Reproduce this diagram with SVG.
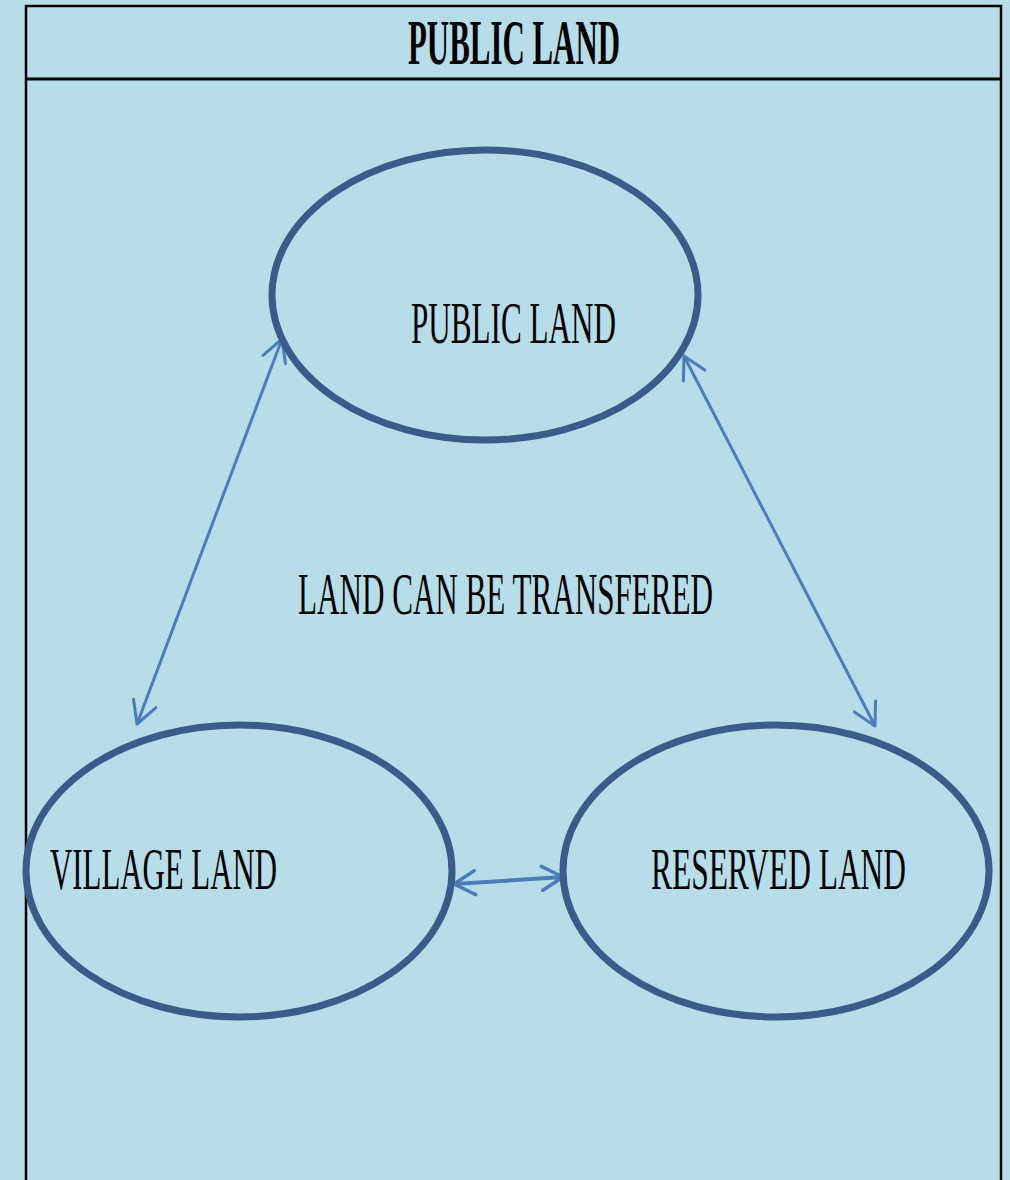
<svg xmlns="http://www.w3.org/2000/svg" width="1010" height="1180" viewBox="0 0 1010 1180">
<style>
.node{fill:none;stroke:#385D8A;stroke-width:7}
.lbl{font-family:"Liberation Serif","Times New Roman",serif;fill:#000;font-size:60px}
.conn{stroke:#4A7EBB;stroke-width:3;fill:none}
</style>
<defs>
<marker id="ah" viewBox="0 0 28 28" refX="24" refY="14" markerWidth="28" markerHeight="28" markerUnits="userSpaceOnUse" orient="auto-start-reverse">
<path d="M2,2 L24,14 L2,26" fill="none" stroke="#4A7EBB" stroke-width="3" stroke-linecap="round" stroke-linejoin="round"/>
</marker>
<marker id="ah2" viewBox="0 0 28 28" refX="24" refY="14" markerWidth="28" markerHeight="28" markerUnits="userSpaceOnUse" orient="auto-start-reverse">
<path d="M3,2 L24,14 L3,26" fill="none" stroke="#4A7EBB" stroke-width="3.5" stroke-linecap="round" stroke-linejoin="round"/>
</marker>
</defs>
<rect width="1010" height="1180" fill="#B7DDE8"/>
<g id="frame">
<rect x="26" y="6" width="975" height="1180" fill="none" stroke="#000" stroke-width="2.5"/>
<line x1="26" y1="79" x2="1001" y2="79" stroke="#000" stroke-width="3"/>
<text x="514" y="64" text-anchor="middle" class="lbl" style="font-weight:bold;font-size:64px" textLength="212" lengthAdjust="spacingAndGlyphs">PUBLIC LAND</text>
</g>
<g id="connectors">
<line class="conn" x1="282" y1="339" x2="137" y2="724" marker-start="url(#ah)" marker-end="url(#ah)"/>
<line class="conn" x1="684" y1="356" x2="875" y2="726" marker-start="url(#ah)" marker-end="url(#ah)"/>
<line class="conn" style="stroke-width:4" x1="454" y1="884" x2="563" y2="877" marker-start="url(#ah2)" marker-end="url(#ah2)"/>
</g>
<g id="public-land">
<ellipse class="node" cx="485" cy="295" rx="213" ry="145"/>
<text x="411" y="343" class="lbl" textLength="205" lengthAdjust="spacingAndGlyphs">PUBLIC LAND</text>
</g>
<g id="transfer-label">
<text x="298" y="614" class="lbl" textLength="415" lengthAdjust="spacingAndGlyphs">LAND CAN BE TRANSFERED</text>
</g>
<g id="village-land">
<ellipse class="node" cx="239" cy="871" rx="213" ry="146"/>
<text x="50" y="889" class="lbl" textLength="227" lengthAdjust="spacingAndGlyphs">VILLAGE LAND</text>
</g>
<g id="reserved-land">
<ellipse class="node" cx="776" cy="871" rx="213" ry="146"/>
<text x="651" y="889" class="lbl" textLength="255" lengthAdjust="spacingAndGlyphs">RESERVED LAND</text>
</g>
</svg>
